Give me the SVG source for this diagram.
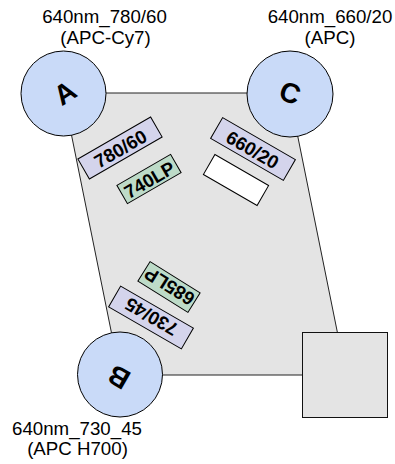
<svg xmlns="http://www.w3.org/2000/svg" width="395" height="464" viewBox="0 0 395 464">
<style>
.lbl{font-family:"Liberation Sans",Arial,sans-serif;font-size:18.7px;fill:#000;text-anchor:middle}
.flt{font-family:"Liberation Sans",Arial,sans-serif;font-size:18.7px;font-weight:bold;fill:#000;text-anchor:middle;dominant-baseline:central}
.ltr{font-family:"Liberation Sans",Arial,sans-serif;font-size:28px;font-weight:bold;fill:#000;text-anchor:middle;dominant-baseline:central}
.det{fill:#c9daf8;stroke:#000;stroke-width:1}
.bp{fill:#d4d4ec;stroke:#000;stroke-width:1}
.lp{fill:#bddbc8;stroke:#000;stroke-width:1}
.blank{fill:#fff;stroke:#000;stroke-width:1}
</style>
<rect width="395" height="464" fill="#fff"/>
<g id="body">
<polygon points="63,93 289,93 346,375 120,375" fill="#e4e4e4" stroke="#222" stroke-width="1"/>
</g>
<g id="square">
<rect x="302.5" y="332.5" width="85" height="85" fill="#e4e4e4" stroke="#111" stroke-width="1"/>
</g>
<g id="detA">
<circle class="det" cx="63.5" cy="93.5" r="42.5"/>
<text class="ltr" transform="translate(65,93) rotate(-33)">A</text>
</g>
<g id="detC">
<circle class="det" cx="290" cy="94" r="43"/>
<text class="ltr" transform="translate(290,93) rotate(20)">C</text>
</g>
<g id="detB">
<circle class="det" cx="120" cy="374.5" r="42.5"/>
<text class="ltr" transform="translate(119,377) rotate(210)">B</text>
</g>
<g id="f780">
<g transform="translate(120,148) rotate(-30)"><rect class="bp" x="-42" y="-11.5" width="84" height="23"/><text class="flt" y="1">780/60</text></g>
</g>
<g id="f740">
<g transform="translate(149,179) rotate(-30)"><rect class="lp" x="-31" y="-10.5" width="62" height="21"/><text class="flt" y="1">740LP</text></g>
</g>
<g id="f660">
<g transform="translate(253,149) rotate(30)"><rect class="bp" x="-42" y="-12" width="84" height="24"/><text class="flt" y="1">660/20</text></g>
</g>
<g id="fblank">
<g transform="translate(236,180) rotate(30)"><rect class="blank" x="-31" y="-11.5" width="62" height="23"/></g>
</g>
<g id="f685">
<g transform="translate(169,287) rotate(212)"><rect class="lp" x="-29.5" y="-11.5" width="59" height="23"/><text class="flt" y="1">685LP</text></g>
</g>
<g id="f730">
<g transform="translate(151,317.5) rotate(210)"><rect class="bp" x="-42" y="-12" width="84" height="24"/><text class="flt" y="1">730/45</text></g>
</g>
<g id="labelA">
<text class="lbl" x="104.5" y="23">640nm_780/60</text>
<text class="lbl" x="105.5" y="44">(APC-Cy7)</text>
</g>
<g id="labelC">
<text class="lbl" x="330" y="23">640nm_660/20</text>
<text class="lbl" x="330" y="44">(APC)</text>
</g>
<g id="labelB">
<text class="lbl" x="77" y="435">640nm_730_45</text>
<text class="lbl" x="77.5" y="455">(APC H700)</text>
</g>
</svg>
